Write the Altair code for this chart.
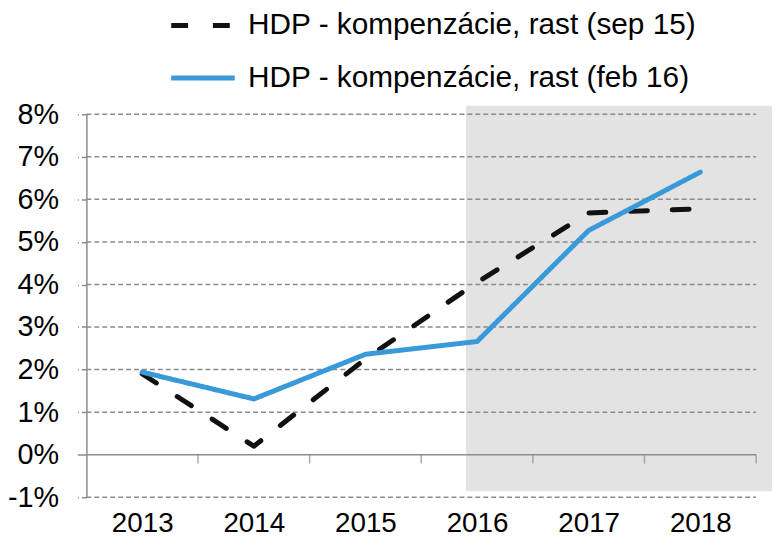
import altair as alt
import pandas as pd

# ---- data ----
years = [2013, 2014, 2015, 2016, 2017, 2018]
sep15 = [1.90, 0.20, 2.25, 4.05, 5.68, 5.78]
feb16 = [1.94, 1.31, 2.36, 2.66, 5.27, 6.64]
series_names = ["HDP - kompenzácie, rast (sep 15)", "HDP - kompenzácie, rast (feb 16)"]
y_ticks = [-1, 0, 1, 2, 3, 4, 5, 6, 7, 8]
grid_levels = [-1, 1, 2, 3, 4, 5, 6, 7, 8]
x_bounds = [2013.5, 2014.5, 2015.5, 2016.5, 2017.5, 2018.5]
x_domain = [2012.5, 2018.5]
y_domain = [-1, 8]
shade_x = [2015.9, 2018.7]
shade_y = [8.2, -0.86]

rows = []
for name, vals in zip(series_names, [sep15, feb16]):
    for yr, v in zip(years, vals):
        rows.append({"year": yr, "value": v, "series": name})
lines_df = pd.DataFrame(rows)
grid_df = pd.DataFrame({"y": grid_levels, "x": x_domain[0], "x2": x_domain[1]})
zero_df = pd.DataFrame({"y": [0], "x": [x_domain[0]], "x2": [x_domain[1]]})
bounds_df = pd.DataFrame({"x": x_bounds, "y": 0})
shade_df = pd.DataFrame({"x": [shade_x[0]], "x2": [shade_x[1]], "y": [shade_y[0]], "y2": [shade_y[1]]})

FONT = "Liberation Sans"
GRAY = "#8c8c8c"

xscale = alt.Scale(domain=x_domain, nice=False, zero=False)
yscale = alt.Scale(domain=y_domain, nice=False, zero=False)

x_axis = alt.Axis(values=years, format="d", title=None, domain=False, ticks=False,
                  grid=False, labelFontSize=28, labelFont=FONT, labelColor="#000",
                  labelPadding=13, labelFlush=False)
y_axis = alt.Axis(values=y_ticks, title=None, grid=False, domainColor=GRAY, domainWidth=1.5,
                  tickColor=GRAY, tickSize=9, tickWidth=1.5,
                  tickDash={"condition": {"test": "datum.value == 0", "value": [1, 0]}, "value": [5, 3]},
                  labelExpr="datum.value + '%'", labelFontSize=29, labelFont=FONT,
                  labelColor="#000", labelPadding=19, labelFlush=False)


def X(field):
    return alt.X(field, type="quantitative", scale=xscale, axis=x_axis)


def Y(field):
    return alt.Y(field, type="quantitative", scale=yscale, axis=y_axis)


shade = alt.Chart(shade_df).mark_rect(color="#e3e3e3", clip=False).encode(
    x=X("x"), x2="x2", y=Y("y"), y2="y2")

grid = alt.Chart(grid_df).mark_rule(color=GRAY, strokeWidth=1.5, strokeDash=[5, 3]).encode(
    x=X("x"), x2="x2", y=Y("y"))

zero = alt.Chart(zero_df).mark_rule(color=GRAY, strokeWidth=1.5).encode(
    x=X("x"), x2="x2", y=Y("y"))

ticks = alt.Chart(bounds_df).mark_tick(color=GRAY, orient="vertical", size=9, thickness=1.5,
                                       yOffset=4.5).encode(x=X("x"), y=Y("y"))

lines = alt.Chart(lines_df).mark_line(strokeWidth=5, strokeCap="round", strokeJoin="round").encode(
    x=X("year"), y=Y("value"),
    color=alt.Color("series:N", scale=alt.Scale(domain=series_names, range=["#111111", "#3a9ad9"]),
                    legend=alt.Legend(orient="none", legendX=83, legendY=-124, direction="vertical",
                                      title=None, symbolType="stroke", symbolSize=4096,
                                      symbolStrokeWidth=5, labelFontSize=30, labelFont=FONT,
                                      labelColor="#000", labelLimit=800, labelOffset=11,
                                      rowPadding=3, padding=0)),
    strokeDash=alt.StrokeDash("series:N", scale=alt.Scale(domain=series_names, range=[[17, 25], [1, 0]]),
                              legend=None),
    order=alt.Order("year:Q"),
)

chart = alt.layer(shade, grid, zero, ticks, lines).properties(
    width=675, height=386,
    autosize=alt.AutoSizeParams(type="none"),
    padding={"left": 79, "top": 105, "right": 16, "bottom": 41},
).configure_view(stroke=None)

chart.save("out.html", embed_options={"renderer": "svg", "actions": False})
